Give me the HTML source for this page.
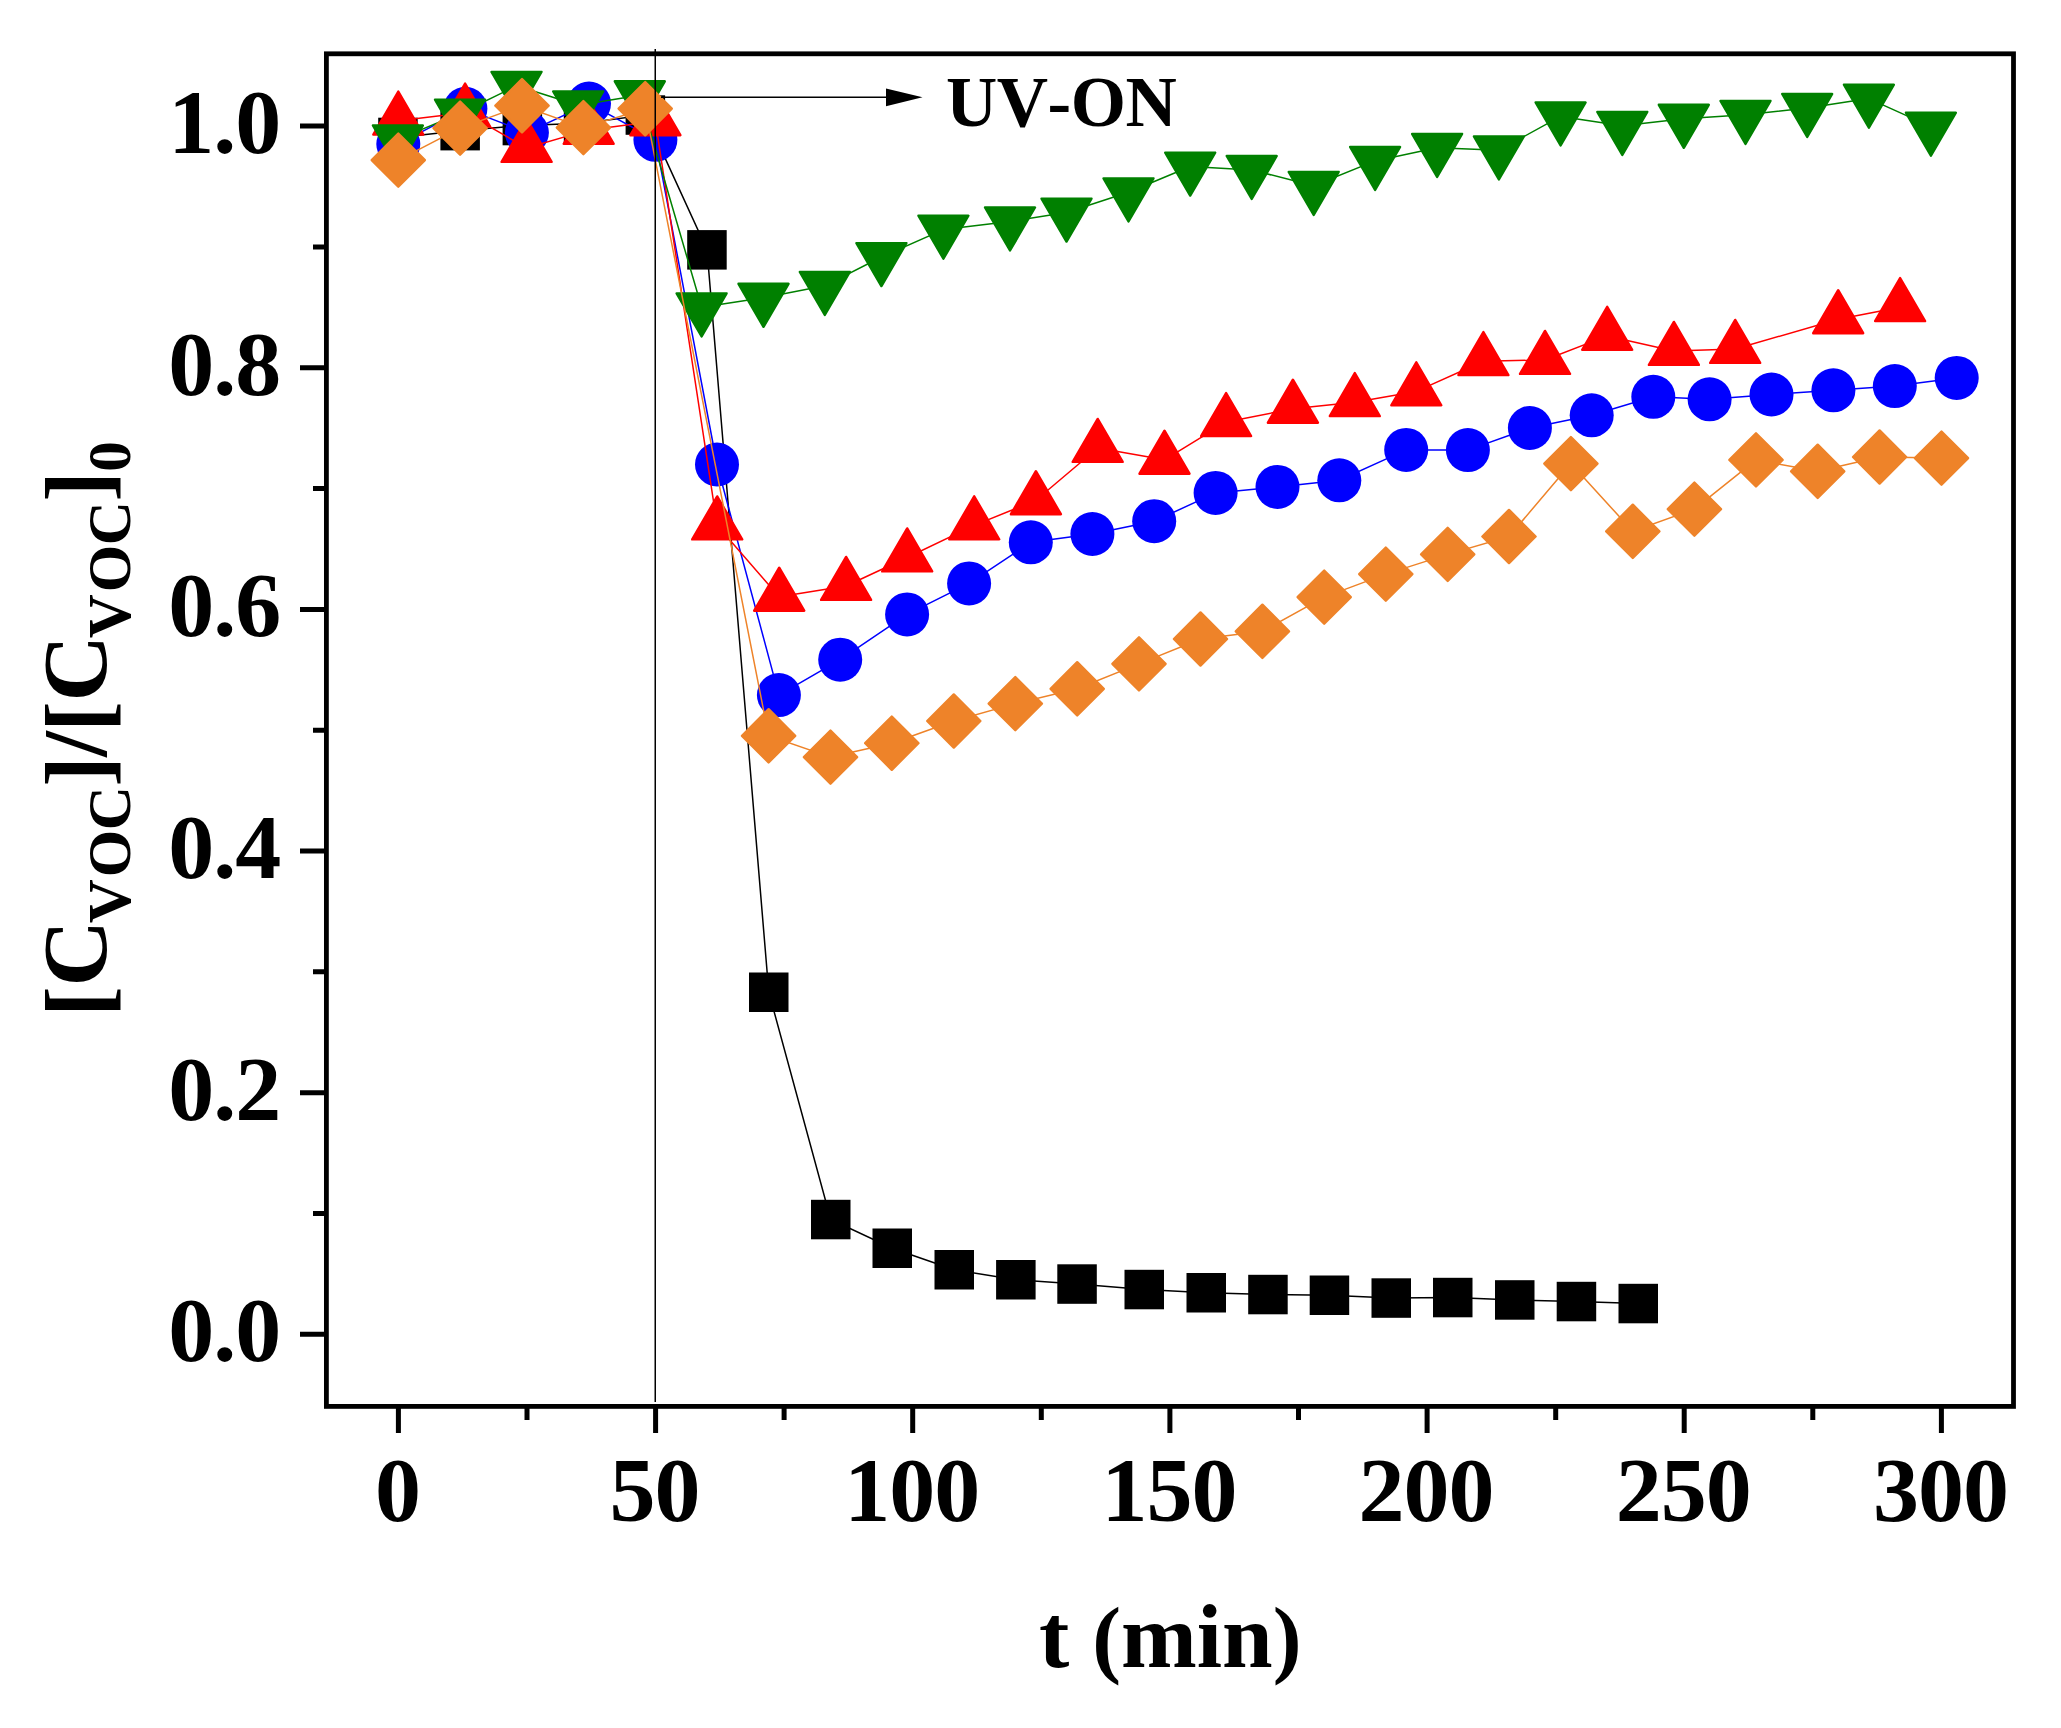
<!DOCTYPE html>
<html lang="en"><head><meta charset="utf-8"><title>VOC degradation chart</title>
<style>html,body{margin:0;padding:0;background:#fff}body{width:2061px;height:1728px;overflow:hidden}svg{display:block}text{font-family:"Liberation Serif","Times New Roman",serif;font-weight:bold;fill:#000;font-kerning:none}</style>
</head><body>
<svg width="2061" height="1728" viewBox="0 0 2061 1728">
<rect width="2061" height="1728" fill="#fff"/>
<g id="s-black"><polyline fill="none" stroke="#000000" stroke-width="1.5" points="398,137.4 460.2,130.7 522.4,125.6 583.5,123.2 645.4,115.1 707,249.8 768.8,992.2 830.7,1219.5 892.2,1248.2 954.2,1269.8 1015.9,1279.8 1077.1,1284.1 1144.2,1289.6 1206.3,1292.8 1267.9,1294.6 1329.4,1295.2 1391.2,1298.1 1452.8,1297.6 1514.7,1300 1576.4,1301.6 1638.3,1303.6"/>
<rect x="378.2" y="117.7" width="39.5" height="39.5" fill="#000000"/>
<rect x="440.4" y="110.9" width="39.5" height="39.5" fill="#000000"/>
<rect x="502.6" y="105.8" width="39.5" height="39.5" fill="#000000"/>
<rect x="563.8" y="103.5" width="39.5" height="39.5" fill="#000000"/>
<rect x="625.6" y="95.3" width="39.5" height="39.5" fill="#000000"/>
<rect x="687.2" y="230.1" width="39.5" height="39.5" fill="#000000"/>
<rect x="749" y="972.5" width="39.5" height="39.5" fill="#000000"/>
<rect x="811" y="1199.8" width="39.5" height="39.5" fill="#000000"/>
<rect x="872.5" y="1228.5" width="39.5" height="39.5" fill="#000000"/>
<rect x="934.5" y="1250" width="39.5" height="39.5" fill="#000000"/>
<rect x="996.1" y="1260" width="39.5" height="39.5" fill="#000000"/>
<rect x="1057.3" y="1264.3" width="39.5" height="39.5" fill="#000000"/>
<rect x="1124.5" y="1269.8" width="39.5" height="39.5" fill="#000000"/>
<rect x="1186.5" y="1273" width="39.5" height="39.5" fill="#000000"/>
<rect x="1248.2" y="1274.8" width="39.5" height="39.5" fill="#000000"/>
<rect x="1309.7" y="1275.5" width="39.5" height="39.5" fill="#000000"/>
<rect x="1371.5" y="1278.3" width="39.5" height="39.5" fill="#000000"/>
<rect x="1433" y="1277.8" width="39.5" height="39.5" fill="#000000"/>
<rect x="1495" y="1280.2" width="39.5" height="39.5" fill="#000000"/>
<rect x="1556.7" y="1281.8" width="39.5" height="39.5" fill="#000000"/>
<rect x="1618.5" y="1283.8" width="39.5" height="39.5" fill="#000000"/>
</g>
<g id="s-blue"><polyline fill="none" stroke="#0000ff" stroke-width="1.5" points="398.3,144.1 465.4,108.8 526.9,132.6 589,103.5 655.4,139.8 717,464.5 778.9,695.1 840.2,659.7 907.1,614.4 969.1,583.4 1030.8,542.3 1092.4,534 1154.2,521.2 1215.6,492.9 1277.5,486.9 1339.3,480.3 1406.2,449.9 1467.9,450.1 1529.9,428 1591.7,415.3 1653.3,396.8 1709.6,399.3 1771.5,394.5 1833.4,390.3 1894.8,386.1 1956.7,377.9"/>
<circle cx="398.3" cy="144.1" r="22.0" fill="#0000ff"/>
<circle cx="465.4" cy="108.8" r="22.0" fill="#0000ff"/>
<circle cx="526.9" cy="132.6" r="22.0" fill="#0000ff"/>
<circle cx="589" cy="103.5" r="22.0" fill="#0000ff"/>
<circle cx="655.4" cy="139.8" r="22.0" fill="#0000ff"/>
<circle cx="717" cy="464.5" r="22.0" fill="#0000ff"/>
<circle cx="778.9" cy="695.1" r="22.0" fill="#0000ff"/>
<circle cx="840.2" cy="659.7" r="22.0" fill="#0000ff"/>
<circle cx="907.1" cy="614.4" r="22.0" fill="#0000ff"/>
<circle cx="969.1" cy="583.4" r="22.0" fill="#0000ff"/>
<circle cx="1030.8" cy="542.3" r="22.0" fill="#0000ff"/>
<circle cx="1092.4" cy="534" r="22.0" fill="#0000ff"/>
<circle cx="1154.2" cy="521.2" r="22.0" fill="#0000ff"/>
<circle cx="1215.6" cy="492.9" r="22.0" fill="#0000ff"/>
<circle cx="1277.5" cy="486.9" r="22.0" fill="#0000ff"/>
<circle cx="1339.3" cy="480.3" r="22.0" fill="#0000ff"/>
<circle cx="1406.2" cy="449.9" r="22.0" fill="#0000ff"/>
<circle cx="1467.9" cy="450.1" r="22.0" fill="#0000ff"/>
<circle cx="1529.9" cy="428" r="22.0" fill="#0000ff"/>
<circle cx="1591.7" cy="415.3" r="22.0" fill="#0000ff"/>
<circle cx="1653.3" cy="396.8" r="22.0" fill="#0000ff"/>
<circle cx="1709.6" cy="399.3" r="22.0" fill="#0000ff"/>
<circle cx="1771.5" cy="394.5" r="22.0" fill="#0000ff"/>
<circle cx="1833.4" cy="390.3" r="22.0" fill="#0000ff"/>
<circle cx="1894.8" cy="386.1" r="22.0" fill="#0000ff"/>
<circle cx="1956.7" cy="377.9" r="22.0" fill="#0000ff"/>
</g>
<g id="s-red" stroke-linejoin="round"><polyline fill="none" stroke="#ff0000" stroke-width="1.5" points="398.3,120.7 465.1,112.7 526.6,148 588.7,129.9 655.4,121.3 717.2,525.5 779.2,596.8 846.1,586 907.2,557.5 974.2,525.4 1035.9,500.3 1097.7,448 1164.5,459.8 1226.1,422.1 1292.9,408.8 1354.8,402.2 1416.3,391.4 1483.4,361.2 1545,360 1607.2,335.9 1673.9,351 1735.2,349 1838.2,319.3 1900.1,307.2"/>
<polygon fill="#ff0000" stroke="#ff0000" stroke-width="2.4" points="398.3,91.6 423.3,134.6 373.3,134.6"/>
<polygon fill="#ff0000" stroke="#ff0000" stroke-width="2.4" points="465.1,83.6 490.1,126.6 440.1,126.6"/>
<polygon fill="#ff0000" stroke="#ff0000" stroke-width="2.4" points="526.6,118.9 551.6,161.9 501.6,161.9"/>
<polygon fill="#ff0000" stroke="#ff0000" stroke-width="2.4" points="588.7,100.8 613.7,143.8 563.7,143.8"/>
<polygon fill="#ff0000" stroke="#ff0000" stroke-width="2.4" points="655.4,92.2 680.4,135.2 630.4,135.2"/>
<polygon fill="#ff0000" stroke="#ff0000" stroke-width="2.4" points="717.2,496.4 742.2,539.4 692.2,539.4"/>
<polygon fill="#ff0000" stroke="#ff0000" stroke-width="2.4" points="779.2,567.7 804.2,610.7 754.2,610.7"/>
<polygon fill="#ff0000" stroke="#ff0000" stroke-width="2.4" points="846.1,556.9 871.1,599.9 821.1,599.9"/>
<polygon fill="#ff0000" stroke="#ff0000" stroke-width="2.4" points="907.2,528.4 932.2,571.4 882.2,571.4"/>
<polygon fill="#ff0000" stroke="#ff0000" stroke-width="2.4" points="974.2,496.3 999.2,539.3 949.2,539.3"/>
<polygon fill="#ff0000" stroke="#ff0000" stroke-width="2.4" points="1035.9,471.2 1060.9,514.2 1010.9,514.2"/>
<polygon fill="#ff0000" stroke="#ff0000" stroke-width="2.4" points="1097.7,418.9 1122.7,461.9 1072.7,461.9"/>
<polygon fill="#ff0000" stroke="#ff0000" stroke-width="2.4" points="1164.5,430.7 1189.5,473.7 1139.5,473.7"/>
<polygon fill="#ff0000" stroke="#ff0000" stroke-width="2.4" points="1226.1,393 1251.1,436 1201.1,436"/>
<polygon fill="#ff0000" stroke="#ff0000" stroke-width="2.4" points="1292.9,379.7 1317.9,422.7 1267.9,422.7"/>
<polygon fill="#ff0000" stroke="#ff0000" stroke-width="2.4" points="1354.8,373.1 1379.8,416.1 1329.8,416.1"/>
<polygon fill="#ff0000" stroke="#ff0000" stroke-width="2.4" points="1416.3,362.3 1441.3,405.3 1391.3,405.3"/>
<polygon fill="#ff0000" stroke="#ff0000" stroke-width="2.4" points="1483.4,332.1 1508.4,375.1 1458.4,375.1"/>
<polygon fill="#ff0000" stroke="#ff0000" stroke-width="2.4" points="1545,330.9 1570,373.9 1520,373.9"/>
<polygon fill="#ff0000" stroke="#ff0000" stroke-width="2.4" points="1607.2,306.8 1632.2,349.8 1582.2,349.8"/>
<polygon fill="#ff0000" stroke="#ff0000" stroke-width="2.4" points="1673.9,321.9 1698.9,364.9 1648.9,364.9"/>
<polygon fill="#ff0000" stroke="#ff0000" stroke-width="2.4" points="1735.2,319.9 1760.2,362.9 1710.2,362.9"/>
<polygon fill="#ff0000" stroke="#ff0000" stroke-width="2.4" points="1838.2,290.2 1863.2,333.2 1813.2,333.2"/>
<polygon fill="#ff0000" stroke="#ff0000" stroke-width="2.4" points="1900.1,278.1 1925.1,321.1 1875.1,321.1"/>
</g>
<g id="s-green" stroke-linejoin="round"><polyline fill="none" stroke="#008000" stroke-width="1.5" points="397.9,139.4 460,113.5 516.5,85.8 578.2,105.3 639.8,95.2 701.6,307.3 763.5,297.7 824.8,285.8 881.4,257 943.4,229.6 1010,221.4 1066.5,212.5 1128.5,192.3 1190.2,166.5 1251.7,169.9 1313.7,185.8 1375.1,160.9 1437.1,147.8 1498.9,150.3 1560.6,116.4 1622.3,125.8 1683.8,118.7 1745.5,114.8 1807.2,107.9 1868.9,98.6 1930.9,126.6"/>
<polygon fill="#008000" stroke="#008000" stroke-width="2.4" points="397.9,168.5 422.9,125.5 372.9,125.5"/>
<polygon fill="#008000" stroke="#008000" stroke-width="2.4" points="460,142.6 485,99.6 435,99.6"/>
<polygon fill="#008000" stroke="#008000" stroke-width="2.4" points="516.5,114.9 541.5,71.9 491.5,71.9"/>
<polygon fill="#008000" stroke="#008000" stroke-width="2.4" points="578.2,134.4 603.2,91.4 553.2,91.4"/>
<polygon fill="#008000" stroke="#008000" stroke-width="2.4" points="639.8,124.3 664.8,81.3 614.8,81.3"/>
<polygon fill="#008000" stroke="#008000" stroke-width="2.4" points="701.6,336.4 726.6,293.4 676.6,293.4"/>
<polygon fill="#008000" stroke="#008000" stroke-width="2.4" points="763.5,326.8 788.5,283.8 738.5,283.8"/>
<polygon fill="#008000" stroke="#008000" stroke-width="2.4" points="824.8,314.9 849.8,271.9 799.8,271.9"/>
<polygon fill="#008000" stroke="#008000" stroke-width="2.4" points="881.4,286.1 906.4,243.1 856.4,243.1"/>
<polygon fill="#008000" stroke="#008000" stroke-width="2.4" points="943.4,258.7 968.4,215.7 918.4,215.7"/>
<polygon fill="#008000" stroke="#008000" stroke-width="2.4" points="1010,250.5 1035,207.5 985,207.5"/>
<polygon fill="#008000" stroke="#008000" stroke-width="2.4" points="1066.5,241.6 1091.5,198.6 1041.5,198.6"/>
<polygon fill="#008000" stroke="#008000" stroke-width="2.4" points="1128.5,221.4 1153.5,178.4 1103.5,178.4"/>
<polygon fill="#008000" stroke="#008000" stroke-width="2.4" points="1190.2,195.6 1215.2,152.6 1165.2,152.6"/>
<polygon fill="#008000" stroke="#008000" stroke-width="2.4" points="1251.7,199 1276.7,156 1226.7,156"/>
<polygon fill="#008000" stroke="#008000" stroke-width="2.4" points="1313.7,214.9 1338.7,171.9 1288.7,171.9"/>
<polygon fill="#008000" stroke="#008000" stroke-width="2.4" points="1375.1,190 1400.1,147 1350.1,147"/>
<polygon fill="#008000" stroke="#008000" stroke-width="2.4" points="1437.1,176.9 1462.1,133.9 1412.1,133.9"/>
<polygon fill="#008000" stroke="#008000" stroke-width="2.4" points="1498.9,179.4 1523.9,136.4 1473.9,136.4"/>
<polygon fill="#008000" stroke="#008000" stroke-width="2.4" points="1560.6,145.5 1585.6,102.5 1535.6,102.5"/>
<polygon fill="#008000" stroke="#008000" stroke-width="2.4" points="1622.3,154.9 1647.3,111.9 1597.3,111.9"/>
<polygon fill="#008000" stroke="#008000" stroke-width="2.4" points="1683.8,147.8 1708.8,104.8 1658.8,104.8"/>
<polygon fill="#008000" stroke="#008000" stroke-width="2.4" points="1745.5,143.9 1770.5,100.9 1720.5,100.9"/>
<polygon fill="#008000" stroke="#008000" stroke-width="2.4" points="1807.2,137 1832.2,94 1782.2,94"/>
<polygon fill="#008000" stroke="#008000" stroke-width="2.4" points="1868.9,127.7 1893.9,84.7 1843.9,84.7"/>
<polygon fill="#008000" stroke="#008000" stroke-width="2.4" points="1930.9,155.7 1955.9,112.7 1905.9,112.7"/>
</g>
<g id="s-orange" stroke-linejoin="round"><polyline fill="none" stroke="#ee8329" stroke-width="1.5" points="398.3,160.1 460.1,128.1 522,105.7 583.4,127.6 645.2,108.7 768.6,735.8 830.5,757.1 891.8,743.2 953.8,721 1015.3,703.6 1077.2,688.8 1139,663.9 1200.5,639 1262.4,631.3 1324.2,597.1 1385.8,574.1 1447.7,554.4 1509,536.5 1570.9,463.6 1632.8,531.3 1694.4,509.1 1756,459.9 1817.7,471.3 1879.6,457 1941.5,458.1"/>
<polygon fill="#ee8329" stroke="#ee8329" stroke-width="2.4" points="398.3,133.5 424.9,160.1 398.3,186.7 371.7,160.1"/>
<polygon fill="#ee8329" stroke="#ee8329" stroke-width="2.4" points="460.1,101.5 486.7,128.1 460.1,154.7 433.5,128.1"/>
<polygon fill="#ee8329" stroke="#ee8329" stroke-width="2.4" points="522,79.1 548.6,105.7 522,132.3 495.4,105.7"/>
<polygon fill="#ee8329" stroke="#ee8329" stroke-width="2.4" points="583.4,101 610,127.6 583.4,154.2 556.8,127.6"/>
<polygon fill="#ee8329" stroke="#ee8329" stroke-width="2.4" points="645.2,82.1 671.8,108.7 645.2,135.3 618.6,108.7"/>
<polygon fill="#ee8329" stroke="#ee8329" stroke-width="2.4" points="768.6,709.2 795.2,735.8 768.6,762.4 742,735.8"/>
<polygon fill="#ee8329" stroke="#ee8329" stroke-width="2.4" points="830.5,730.5 857.1,757.1 830.5,783.7 803.9,757.1"/>
<polygon fill="#ee8329" stroke="#ee8329" stroke-width="2.4" points="891.8,716.6 918.4,743.2 891.8,769.8 865.2,743.2"/>
<polygon fill="#ee8329" stroke="#ee8329" stroke-width="2.4" points="953.8,694.4 980.4,721 953.8,747.6 927.2,721"/>
<polygon fill="#ee8329" stroke="#ee8329" stroke-width="2.4" points="1015.3,677 1041.9,703.6 1015.3,730.2 988.7,703.6"/>
<polygon fill="#ee8329" stroke="#ee8329" stroke-width="2.4" points="1077.2,662.2 1103.8,688.8 1077.2,715.4 1050.6,688.8"/>
<polygon fill="#ee8329" stroke="#ee8329" stroke-width="2.4" points="1139,637.3 1165.6,663.9 1139,690.5 1112.4,663.9"/>
<polygon fill="#ee8329" stroke="#ee8329" stroke-width="2.4" points="1200.5,612.4 1227.1,639 1200.5,665.6 1173.9,639"/>
<polygon fill="#ee8329" stroke="#ee8329" stroke-width="2.4" points="1262.4,604.7 1289,631.3 1262.4,657.9 1235.8,631.3"/>
<polygon fill="#ee8329" stroke="#ee8329" stroke-width="2.4" points="1324.2,570.5 1350.8,597.1 1324.2,623.7 1297.6,597.1"/>
<polygon fill="#ee8329" stroke="#ee8329" stroke-width="2.4" points="1385.8,547.5 1412.4,574.1 1385.8,600.7 1359.2,574.1"/>
<polygon fill="#ee8329" stroke="#ee8329" stroke-width="2.4" points="1447.7,527.8 1474.3,554.4 1447.7,581 1421.1,554.4"/>
<polygon fill="#ee8329" stroke="#ee8329" stroke-width="2.4" points="1509,509.9 1535.6,536.5 1509,563.1 1482.4,536.5"/>
<polygon fill="#ee8329" stroke="#ee8329" stroke-width="2.4" points="1570.9,437 1597.5,463.6 1570.9,490.2 1544.3,463.6"/>
<polygon fill="#ee8329" stroke="#ee8329" stroke-width="2.4" points="1632.8,504.7 1659.4,531.3 1632.8,557.9 1606.2,531.3"/>
<polygon fill="#ee8329" stroke="#ee8329" stroke-width="2.4" points="1694.4,482.5 1721,509.1 1694.4,535.7 1667.8,509.1"/>
<polygon fill="#ee8329" stroke="#ee8329" stroke-width="2.4" points="1756,433.3 1782.6,459.9 1756,486.5 1729.4,459.9"/>
<polygon fill="#ee8329" stroke="#ee8329" stroke-width="2.4" points="1817.7,444.7 1844.3,471.3 1817.7,497.9 1791.1,471.3"/>
<polygon fill="#ee8329" stroke="#ee8329" stroke-width="2.4" points="1879.6,430.4 1906.2,457 1879.6,483.6 1853,457"/>
<polygon fill="#ee8329" stroke="#ee8329" stroke-width="2.4" points="1941.5,431.5 1968.1,458.1 1941.5,484.7 1914.9,458.1"/>
</g>
<line x1="655.25" y1="49" x2="655.25" y2="1402" stroke="#000" stroke-width="1.5"/>
<line x1="661" y1="97.25" x2="890" y2="97.25" stroke="#000" stroke-width="1.5"/>
<polygon points="886,88.4 922.5,97.35 886,106.3" fill="#000"/>
<text x="946" y="126" font-size="71" letter-spacing="-0.5">UV-ON</text>
<rect x="326.4" y="53.8" width="1687.1" height="1352.6" fill="none" stroke="#000" stroke-width="4.8"/>
<path d="M398.4 1406.4 V1433 M655.6 1406.4 V1433 M912.7 1406.4 V1433 M1169.9 1406.4 V1433 M1427.1 1406.4 V1433 M1684.2 1406.4 V1433 M1941.4 1406.4 V1433 M527 1406.4 V1420 M784.1 1406.4 V1420 M1041.3 1406.4 V1420 M1298.5 1406.4 V1420 M1555.7 1406.4 V1420 M1812.8 1406.4 V1420 M326.4 1334.3 H300 M326.4 1092.7 H300 M326.4 851 H300 M326.4 609.4 H300 M326.4 367.7 H300 M326.4 126.1 H300 M326.4 1213.5 H313 M326.4 971.8 H313 M326.4 730.2 H313 M326.4 488.6 H313 M326.4 246.9 H313" stroke="#000" stroke-width="5" fill="none"/>
<g font-size="92" text-anchor="middle" letter-spacing="-1">
<text x="397.4" y="1520.5">0</text>
<text x="654.6" y="1520.5">50</text>
<text x="911.7" y="1520.5">100</text>
<text x="1168.9" y="1520.5">150</text>
<text x="1426.1" y="1520.5">200</text>
<text x="1683.2" y="1520.5">250</text>
<text x="1940.4" y="1520.5">300</text>
</g>
<g font-size="92" text-anchor="end" letter-spacing="-1">
<text x="280.3" y="1361.1">0.0</text>
<text x="280.3" y="1119.5">0.2</text>
<text x="280.3" y="877.8">0.4</text>
<text x="280.3" y="636.2">0.6</text>
<text x="280.3" y="394.5">0.8</text>
<text x="280.3" y="152.9">1.0</text>
</g>
<text x="1170.3" y="1666.8" font-size="91" text-anchor="middle">t <tspan font-size="86.5">(</tspan>min<tspan font-size="86.5">)</tspan></text>
<text transform="translate(105.7,729.2) rotate(-90)" font-size="92" text-anchor="middle" letter-spacing="-0.55"><tspan dy="2.5">[</tspan><tspan dy="-2.5">C</tspan><tspan font-size="61" dy="24" dx="-2.6">V</tspan><tspan font-size="61" dx="2.6">OC</tspan><tspan dy="-21.5">]</tspan><tspan dy="-2.5">/</tspan><tspan dy="2.5">[</tspan><tspan dy="-2.5">C</tspan><tspan font-size="61" dy="24" dx="-2.6">V</tspan><tspan font-size="61" dx="2.6">OC</tspan><tspan dy="-21.5">]</tspan><tspan font-size="61" dy="21.5">0</tspan></text>
</svg></body></html>
